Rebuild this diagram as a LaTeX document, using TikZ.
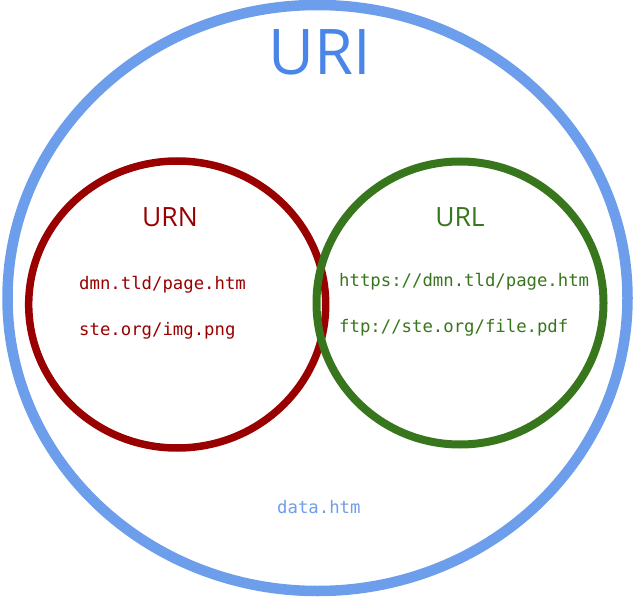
\documentclass[tikz,border=0pt]{standalone}
\usepackage{fontspec}
\setmainfont{Open Sans}
\newfontfamily\codefont{DejaVu Sans Mono}
\usetikzlibrary{shapes.geometric}

\definecolor{uriblue}{HTML}{6D9EEB}
\definecolor{uritext}{HTML}{4A86E8}
\definecolor{urnred}{HTML}{990000}
\definecolor{urlgreen}{HTML}{38761D}

\tikzset{
  setring/.style={ellipse, draw, inner sep=0pt, outer sep=0pt},
  settitle/.style={inner sep=0pt, anchor=base, font=\fontsize{#1}{#1}\selectfont},
  example/.style={inner sep=0pt, anchor=base west, font=\codefont\fontsize{17.3}{17.3}\selectfont}
}

\begin{document}
\begin{tikzpicture}[x=1pt, y=-1pt]
  \useasboundingbox (0,0) rectangle (640,604);

  % the three sets
  \node[setring, line width=10.5pt, draw=uriblue,
        minimum width=620pt, minimum height=586pt] (uri) at (317.5,298) {};
  \node[setring, line width=7.5pt, draw=urnred,
        minimum width=297pt, minimum height=287pt] (urn) at (177.2,304.5) {};
  \node[setring, line width=8pt, draw=urlgreen,
        minimum width=287pt, minimum height=283pt] (url) at (460,303) {};

  % set titles
  \node[settitle=63, text=uritext] (urititle) at (320,75) {URI};
  \node[settitle=26.5, text=urnred] (urntitle) at (170,227) {URN};
  \node[settitle=26.5, text=urlgreen] (urltitle) at (460,227) {URL};

  % examples in each set
  \node[example, text=urnred] (urn1) at (79,289) {dmn.tld/page.htm};
  \node[example, text=urnred] (urn2) at (79,335) {ste.org/img.png};
  \node[example, text=urlgreen] (url1) at (339,287) {https://dmn.tld/page.htm};
  \node[example, text=urlgreen] (url2) at (339,332) {ftp://ste.org/file.pdf};
  \node[example, text=uriblue] (uri1) at (277,513) {data.htm};
\end{tikzpicture}
\end{document}
